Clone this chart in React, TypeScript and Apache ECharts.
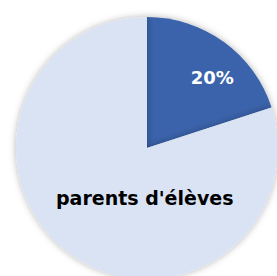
import React, { useEffect, useRef } from "react";
import * as echarts from "echarts";

const categories = ["parents d'élèves (20%)", "parents d'élèves"];
const values = [20, 80];
const labels = ["20%", "parents d'élèves"];

export default function App() {
  const ref = useRef<HTMLDivElement>(null);
  useEffect(() => {
    const chart = echarts.init(ref.current!, undefined, { renderer: "svg" });
    const colors = ["#3a63ab", "#dae3f3"];
    const labelColors = ["#ffffff", "#000000"];
    const labelSizes = [18, 19];
    const shifts = [
      [25, -15],
      [38, -5],
    ];
    chart.setOption({
      animation: false,
      series: [
        {
          type: "pie",
          center: [147, 148],
          radius: 131,
          startAngle: 90,
          clockwise: true,
          data: categories.map((c, i) => ({
            name: c,
            value: values[i],
            itemStyle: {
              color: colors[i],
              borderWidth: 0,
              shadowBlur: 7,
              shadowColor: "rgba(0,0,0,0.3)",
            },
            label: {
              show: true,
              position: "inside",
              formatter: labels[i],
              color: labelColors[i],
              fontSize: labelSizes[i],
              fontWeight: "bold",
              fontFamily: "DejaVu Sans",
            },
          })),
          labelLine: { show: false },
          emphasis: { disabled: true },
          labelLayout: (p: any) => ({ dx: shifts[p.dataIndex][0], dy: shifts[p.dataIndex][1] }),
        },
      ],
    });
    return () => chart.dispose();
  }, []);
  return (
    <div
      ref={ref}
      style={{ position: "absolute", left: 0, top: 0, width: 277, height: 276, background: "#fff" }}
    />
  );
}
